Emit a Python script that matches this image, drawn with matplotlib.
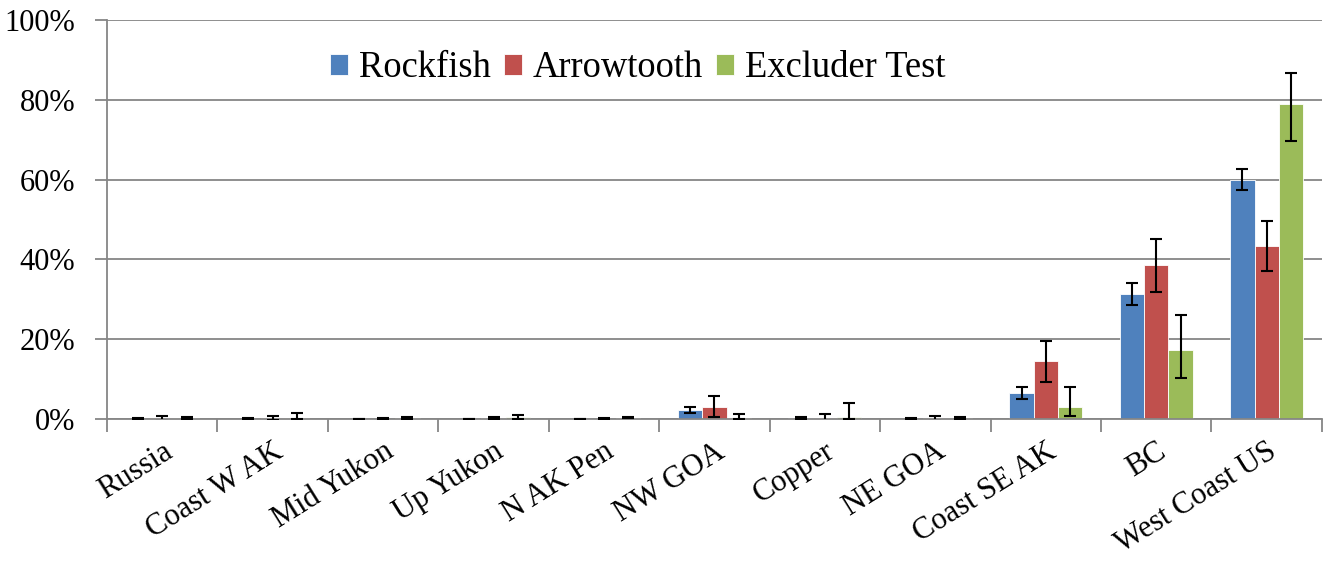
import matplotlib.pyplot as plt
import numpy as np
from matplotlib.ticker import FuncFormatter, MultipleLocator

# valeurs (en %)
regions = ["Russia", "Coast W AK", "Mid Yukon", "Up Yukon", "N AK Pen", "NW GOA",
           "Copper", "NE GOA", "Coast SE AK", "BC", "West Coast US"]
series = ["Rockfish", "Arrowtooth", "Excluder Test"]

rockfish = [0.05, 0.05, 0.05, 0.05, 0.05, 2.3, 0.3, 0.1, 6.5, 31.3, 60.0]
rockfish_err = [0.1, 0.1, 0.05, 0.05, 0.05, 0.7, 0.3, 0.1, 1.5, 2.7, 2.6]

arrowtooth = [0.2, 0.3, 0.1, 0.2, 0.1, 3.1, 0.3, 0.2, 14.5, 38.5, 43.4]
arrowtooth_err = [0.6, 0.5, 0.1, 0.2, 0.1, 2.6, 1.0, 0.6, 5.1, 6.6, 6.2]

excluder = [0.2, 0.3, 0.3, 0.4, 0.3, 0.3, 0.5, 0.3, 2.9, 17.2, 78.9]
excluder_err_low = [0.1, 0.3, 0.2, 0.3, 0.1, 0.3, 0.5, 0.2, 2.1, 6.8, 9.1]
excluder_err_up = [0.2, 1.2, 0.3, 0.5, 0.1, 1.0, 3.5, 0.3, 5.1, 8.8, 7.8]

couleurs = ["#4F81BD", "#C0504D", "#9BBB59"]
gris = "#868686"

plt.rcParams['font.family'] = ['Liberation Serif', 'DejaVu Serif']

fig = plt.figure(figsize=(13.23, 5.61), dpi=100)
ax = fig.add_axes([0.0809, 0.2531, 0.9183, 0.7112])

x = np.arange(len(regions))
largeur = 0.22
valeurs = [rockfish, arrowtooth, excluder]
erreurs = [rockfish_err, arrowtooth_err, [excluder_err_low, excluder_err_up]]

for i, (nom, val, err) in enumerate(zip(series, valeurs, erreurs)):
    ax.bar(x + (i - 1) * largeur, val, largeur, color=couleurs[i], label=nom,
           edgecolor="white", linewidth=0.6, zorder=2,
           yerr=err, error_kw=dict(ecolor="black", elinewidth=1.5, capsize=4.5,
                                   capthick=1.5, zorder=3))

ax.set_xlim(-0.5, len(regions) - 0.5)
ax.set_ylim(0, 100)
ax.yaxis.set_major_locator(MultipleLocator(20))
ax.yaxis.set_major_formatter(FuncFormatter(lambda v, p: f"{v:.0f}%"))
ax.grid(axis='y', color=gris, linewidth=1.3, zorder=0)
ax.set_axisbelow(True)

# ticks entre les categories
ax.set_xticks(x)
ax.set_xticks(np.arange(-0.5, len(regions), 1), minor=True)
ax.tick_params(axis='x', which='major', length=0, pad=13)
ax.tick_params(axis='x', which='minor', length=9, width=1.3, color=gris)
ax.tick_params(axis='y', length=9, width=1.3, color=gris, pad=14, labelsize=22)
ax.set_xticklabels(regions, rotation=32, ha='right', va='top',
                   rotation_mode='anchor', fontsize=22)

for cote in ['top', 'right']:
    ax.spines[cote].set_visible(False)
for cote in ['left', 'bottom']:
    ax.spines[cote].set_color(gris)
    ax.spines[cote].set_linewidth(1.3)

ax.legend(loc='center', bbox_to_anchor=(0.437, 0.88), ncol=3, frameon=False,
          fontsize=26.3, handlelength=0.5, handleheight=0.5, handletextpad=0.3,
          columnspacing=0.35, borderpad=0)

fig.savefig("out.png", dpi=100)
